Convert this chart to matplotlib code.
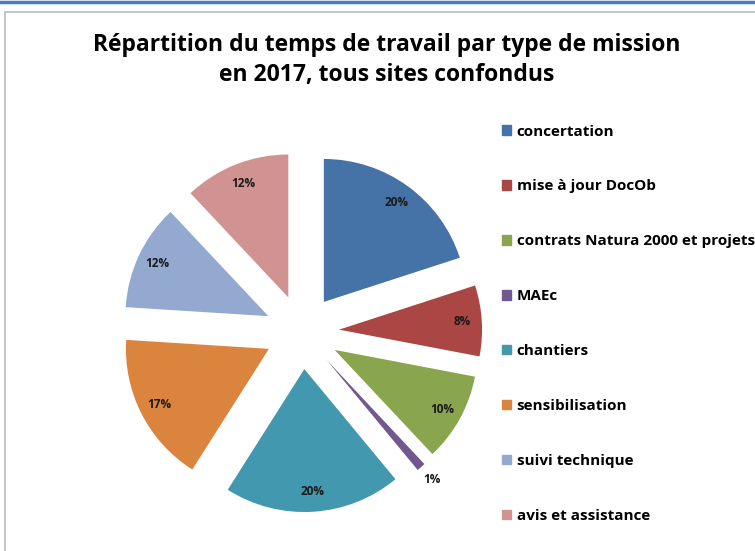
import matplotlib as mpl
mpl.use('Agg')
import matplotlib.pyplot as plt
from matplotlib.patches import Rectangle
from matplotlib.lines import Line2D

categories = ['concertation', 'mise à jour DocOb', 'contrats Natura 2000 et projets',
              'MAEc', 'chantiers', 'sensibilisation', 'suivi technique', 'avis et assistance']
values = [20, 8, 10, 1, 20, 17, 12, 12]
colors = ['#4572A7', '#AA4643', '#89A54E', '#71588F', '#4198AF', '#DB843D', '#93A9CF', '#D19392']

plt.rcParams['font.family'] = ['Open Sans', 'DejaVu Sans']

fig = plt.figure(figsize=(7.55, 5.51), dpi=100)

# window-like frame
fig.add_artist(Line2D([0, 1], [0.997, 0.997], color='#4A7EBB', lw=2.5, transform=fig.transFigure))
fig.add_artist(Rectangle((0.007, -0.01), 1.0, 0.988, transform=fig.transFigure,
                         fill=False, edgecolor='#C8C8C8', lw=1.5))

fig.text(0.512, 0.891, 'Répartition du temps de travail par type de mission\nen 2017, tous sites confondus',
         ha='center', va='center', fontsize=16.5, fontweight='bold', linespacing=1.35)

ax = fig.add_axes([0.116, 0.008, 0.568, 0.779])
wedges, texts, autotexts = ax.pie(values, colors=colors, startangle=90, counterclock=False,
                                  explode=[0.26] * len(values), autopct='%d%%', pctdistance=0.86,
                                  wedgeprops=dict(linewidth=0),
                                  textprops=dict(fontsize=8.5, fontweight='bold', color='#1a1a1a'))
ax.set_xlim(-1.5, 1.5)
ax.set_ylim(-1.5, 1.5)
ax.set_aspect('equal')

# small slice label outside
x, y = autotexts[3].get_position()
autotexts[3].set_position((x * 1.23, y * 1.23))

handles = [Rectangle((0, 0), 1, 1, color=c) for c in colors]
fig.legend(handles, categories, loc='upper left', bbox_to_anchor=(0.647, 0.799),
           frameon=False, handlelength=0.55, handleheight=0.55, handletextpad=0.4,
           labelspacing=2.68, prop=dict(size=11, weight='bold'))

fig.savefig('out.png')
